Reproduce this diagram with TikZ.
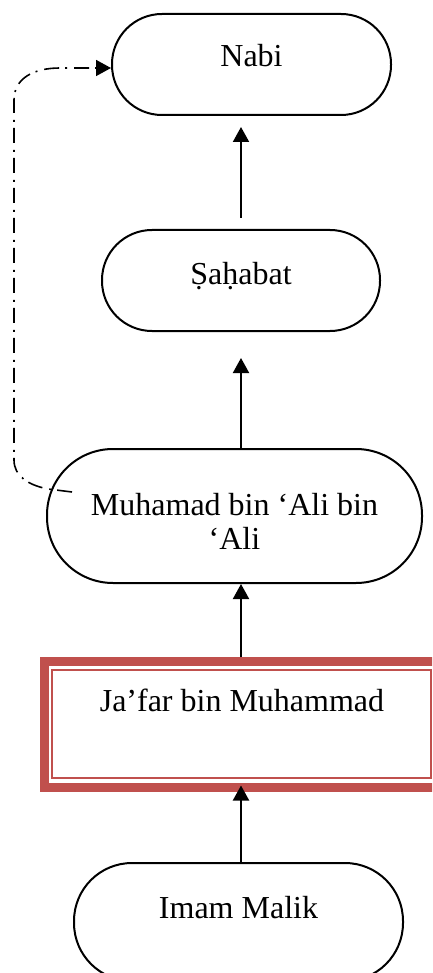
\documentclass[tikz,border=0pt]{standalone}
\usepackage{fontspec}
\setmainfont{Liberation Serif}
\usetikzlibrary{arrows.meta}
\definecolor{boxred}{HTML}{C0504D}
\begin{document}
\begin{tikzpicture}[x=1pt,y=-1pt,
  pill/.style={draw, line width=2pt, rounded corners=#1, inner sep=0pt},
  lbl/.style={inner sep=0pt, anchor=base, font=\fontsize{32pt}{34pt}\selectfont},
  arr/.style={line width=2pt, -{Triangle[length=15pt,width=16pt]}},
  dashdot/.style={line width=1.6pt, dash pattern=on 15pt off 6pt on 2pt off 7pt,
                  -{Triangle[length=15pt,width=16pt]}}]
\useasboundingbox (0,0) rectangle (432,973);
\clip (0,0) rectangle (432,973);

% rounded boxes
\node[pill=50, minimum width=279pt, minimum height=101pt] (nabi) at (251.5,64.5) {};
\node[pill=50, minimum width=278pt, minimum height=101pt] (sahabat) at (241,280.5) {};
\node[pill=66, minimum width=375pt, minimum height=134pt] (muhamad) at (234.5,516) {};
\node[pill=58, minimum width=329pt, minimum height=118pt] (imam) at (238.5,922) {};

% double-framed box
\node[draw=boxred, line width=9pt, inner sep=0pt,
      minimum width=394pt, minimum height=125.5pt] (jafar) at (241.5,724.25) {};
\draw[boxred, line width=2pt] (52,669.5) rectangle (431,778);

% labels
\node[lbl] (nabit) at (251.5,67) {Nabi};
\node[lbl] (sahabatt) at (241,284) {Ṣaḥabat};
\node[lbl, align=center] (muhamadt) at (234.5,549) {Muhamad bin ‘Ali bin\\‘Ali};
\node[lbl] (jafart) at (242,711) {Ja’far bin Muhammad};
\node[lbl] (imamt) at (238.5,918) {Imam Malik};

% connectors
\draw[arr, shorten <=11pt, shorten >=11pt] (sahabat.north) -- (sahabat.north |- nabi.south);
\draw[arr, shorten >=26pt] (sahabat.south |- muhamad.north) -- (sahabat.south);
\draw[arr] (jafar.north -| sahabat.south) -- (sahabat.south |- muhamad.south);
\draw[arr, shorten >=-6pt] (sahabat.south |- imam.north) -- (sahabat.south |- jafar.south);

% dash-dot link back to the top box
\coordinate (dstart) at (72,492);
\coordinate (dlevel) at (0,68);
\draw[dashdot] (dstart) -- (48,489) .. controls (28,485) and (14,476) .. (14,460)
  -- (14,100) .. controls (14,78) and (34,68) .. (60,68) -- (nabi.west |- dlevel);
\end{tikzpicture}
\end{document}
